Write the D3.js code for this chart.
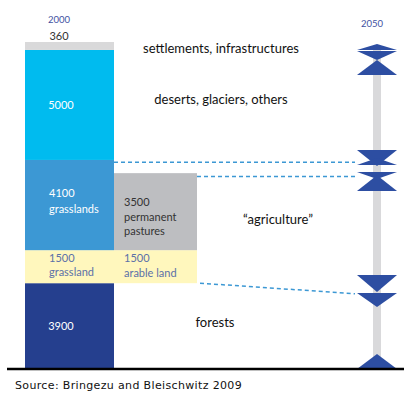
<!DOCTYPE html>
<html>
<head>
<title>Land use 2000 / 2050</title>
<meta charset="utf-8">
<style type="text/css">
html, body { margin: 0; padding: 0; background: #fff; }
svg { display: block; }
svg text { font-family: "Lato", "Open Sans", sans-serif; }
</style>
</head>
<body>
<svg id="chart"></svg>

<script src="https://d3js.org/d3.v7.min.js"></script>
<script type="text/javascript">
const WIDTH = 404;
const HEIGHT = 399;

// 2000 column, bottom to top (million ha)
const landNames = ["forests", "grassland", "grasslands", "deserts, glaciers, others", "settlements, infrastructures"];
const landValues = [3900, 1500, 4100, 5000, 360];
const landLabels = [["3900"], ["1500", "grassland"], ["4100", "grasslands"], ["5000"], ["360"]];

// agriculture split, stacked on top of forests
const agriNames = ["arable land", "permanent pastures"];
const agriValues = [1500, 3500];
const agriLabels = [["1500", "arable land"], ["3500", "permanent", "pastures"]];

// 2050 change markers: triangle base and tip (same units)
const markerBase = [14500, 14450, 13360, 9950, 9270, 8950, 8090, 4270, 3450, 0];
const markerTip = [14770, 14040, 14040, 9220, 9590, 8630, 8810, 3500, 2820, 680];

// dashed connectors 2000 -> 2050
const linkFrom = [9400, 8750, 3900];
const linkTo = [9400, 8750, 3420];

const years = ["2000", "2050"];
const total = d3.sum(landValues);

const COLORS = ["#253f8e", "#fff7bd", "#3c98d4", "#00bbef", "#d9d9da"];
const AGRI_COLORS = ["#fff7bd", "#bdbec1"];
const LABEL_COLORS = ["#fff", "#5b70a8", "#fff", "#fff", "#333"];
const AGRI_LABEL_COLORS = ["#5b70a8", "#333"];

const y = d3.scaleLinear().domain([0, total]).range([369, 42]);

const COL = {x0: 25, x1: 114, x2: 197, x2050: 377};

const svg = d3.select("#chart")
    .attr("width", WIDTH)
    .attr("height", HEIGHT)
    .attr("viewBox", [0, 0, WIDTH, HEIGHT]);

// 2050 grey spine
svg.append("rect")
    .attr("x", COL.x2050 - 4)
    .attr("y", y(14600))
    .attr("width", 8)
    .attr("height", y(0) - y(14600))
    .attr("fill", "#d9d9db");

// stacked 2000 bar
const cum = d3.cumsum(landValues);
const segs = landValues.map((v, i) => ({name: landNames[i], v, lo: cum[i] - v, hi: cum[i], i}));

svg.append("g").selectAll("rect")
    .data(segs)
    .join("rect")
    .attr("x", COL.x0)
    .attr("width", COL.x1 - COL.x0)
    .attr("y", d => y(d.hi))
    .attr("height", d => y(d.lo) - y(d.hi))
    .attr("fill", d => COLORS[d.i]);

// agriculture column
const agriCum = d3.cumsum(agriValues).map(c => c + landValues[0]);
const agriSegs = agriValues.map((v, i) => ({name: agriNames[i], v, lo: agriCum[i] - v, hi: agriCum[i], i}));

svg.append("g").selectAll("rect")
    .data(agriSegs)
    .join("rect")
    .attr("x", COL.x1)
    .attr("width", COL.x2 - COL.x1)
    .attr("y", d => y(d.hi))
    .attr("height", d => y(d.lo) - y(d.hi))
    .attr("fill", d => AGRI_COLORS[d.i]);

// dashed connectors
const linkX0 = [COL.x1, COL.x2, COL.x2 + 3];
linkFrom.forEach((v, i) => {
    svg.append("line")
        .attr("x1", linkX0[i])
        .attr("x2", COL.x2050 - 22)
        .attr("y1", y(v))
        .attr("y2", y(linkTo[i]))
        .attr("stroke", "#3c98d4")
        .attr("stroke-width", 1.5)
        .attr("stroke-dasharray", "4,3");
});

// 2050 triangles
svg.append("g").selectAll("path")
    .data(markerBase.map((b, i) => ({b, t: markerTip[i]})))
    .join("path")
    .attr("d", d => {
        const yb = y(d.b), yt = y(d.t), hw = 20;
        return `M${COL.x2050 - hw},${yb}L${COL.x2050 + hw},${yb}L${COL.x2050},${yt}Z`;
    })
    .attr("fill", "#2d4ea2");

// baseline
svg.append("line")
    .attr("x1", 7).attr("x2", WIDTH)
    .attr("y1", y(0)).attr("y2", y(0))
    .attr("stroke", "#000")
    .attr("stroke-width", 2.5);

// year labels
svg.selectAll("text.year")
    .data(years)
    .join("text")
    .attr("class", "year")
    .attr("x", (d, i) => i === 0 ? 59 : 372)
    .attr("y", (d, i) => i === 0 ? 23 : 27)
    .attr("text-anchor", "middle")
    .attr("font-size", 9.5)
    .attr("fill", "#3f52a2")
    .text(d => d);

// labels inside 2000 bar
segs.forEach(d => {
    const lines = landLabels[d.i];
    const single = lines.length === 1;
    const t = svg.append("text")
        .attr("font-size", 11)
        .attr("fill", LABEL_COLORS[d.i]);
    if (d.i === 4) {
        t.attr("x", 59).attr("y", y(d.hi) - 2).attr("text-anchor", "middle").text(lines[0]);
        return;
    }
    if (single) {
        t.attr("x", 61).attr("y", (y(d.lo) + y(d.hi)) / 2 + 4)
            .attr("text-anchor", "middle").text(lines[0]);
    } else if (d.i === 1) {
        lines.forEach((s, k) => t.append("tspan").attr("x", 49).attr("y", y(d.hi) + 12 + k * 14).text(s));
    } else {
        const y0 = (y(d.lo) + y(d.hi)) / 2 - 8;
        lines.forEach((s, k) => t.append("tspan").attr("x", 49).attr("y", y0 + k * 16).text(s));
    }
});

// labels inside agriculture column
agriSegs.forEach(d => {
    const lines = agriLabels[d.i];
    const y0 = d.i === 0 ? y(d.hi) + 12 : y(d.hi) + 33;
    const t = svg.append("text")
        .attr("font-size", 11)
        .attr("fill", AGRI_LABEL_COLORS[d.i]);
    lines.forEach((s, k) => t.append("tspan").attr("x", 124).attr("y", y0 + k * 14.5).text(s));
});

// category labels to the right
const catLabels = [
    {text: "settlements, infrastructures", x: 221, y: 53},
    {text: "deserts, glaciers, others", x: 221, y: 104},
    {text: "\u201cagriculture\u201d", x: 278, y: 224},
    {text: "forests", x: 215, y: 327}
];
svg.selectAll("text.cat")
    .data(catLabels)
    .join("text")
    .attr("class", "cat")
    .attr("x", d => d.x)
    .attr("y", d => d.y)
    .attr("text-anchor", "middle")
    .attr("font-size", 13)
    .attr("fill", "#111")
    .text(d => d.text);

// source
svg.append("text")
    .attr("x", 15)
    .attr("y", 389)
    .attr("font-size", 11)
    .attr("letter-spacing", 0.35)
    .attr("fill", "#111")
    .style("font-family", "'DejaVu Sans', sans-serif")
    .text("Source: Bringezu and Bleischwitz 2009");
</script>
</body>
</html>
